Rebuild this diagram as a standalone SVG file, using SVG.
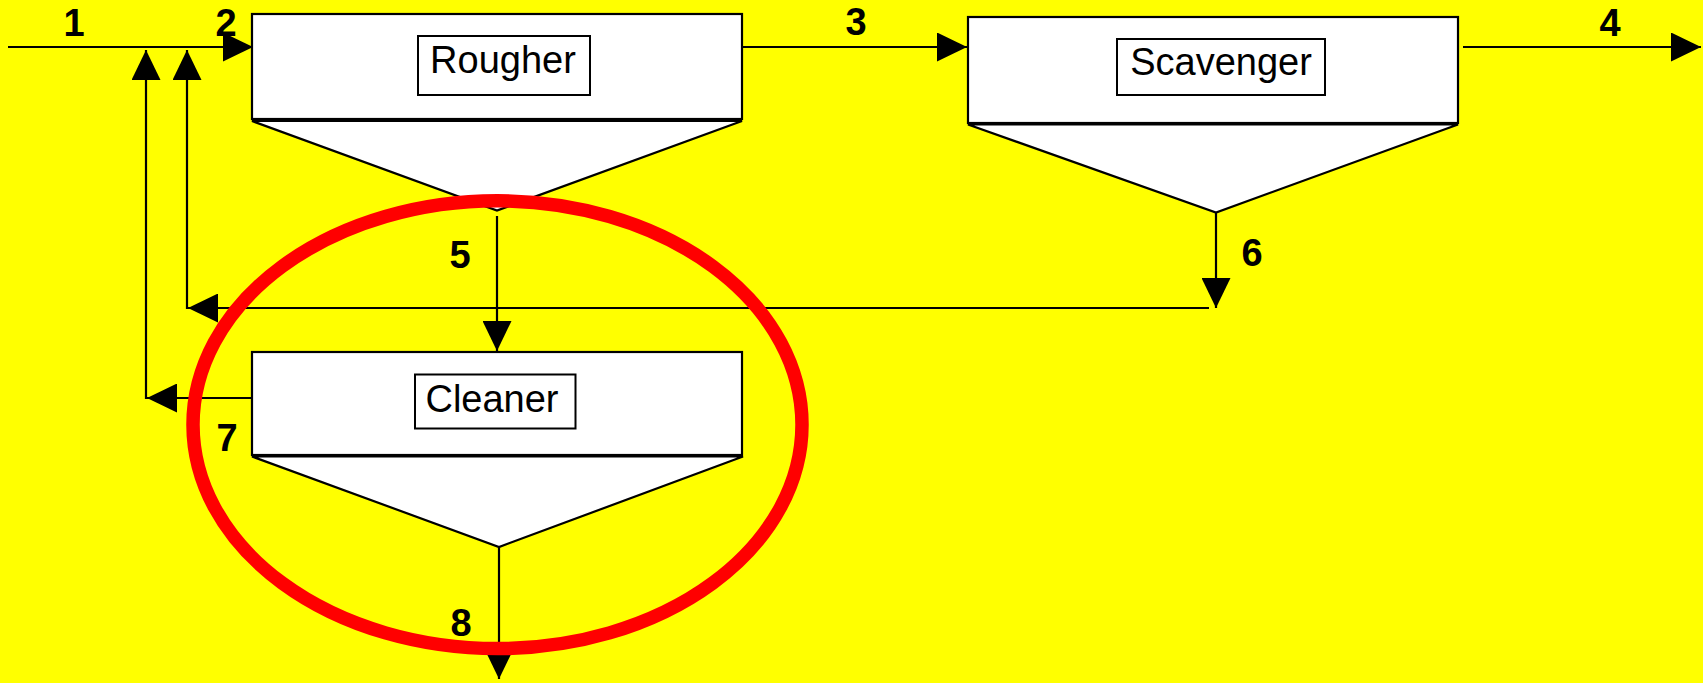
<svg xmlns="http://www.w3.org/2000/svg" width="1703" height="683" viewBox="0 0 1703 683">
<defs>
<marker id="arr" viewBox="0 0 30 30" refX="30" refY="15" markerWidth="30" markerHeight="29" markerUnits="userSpaceOnUse" orient="auto" preserveAspectRatio="none">
<path d="M0,0 L30,15 L0,30 Z" fill="#000"/>
</marker>
</defs>
<style>
.bg{fill:#FFFF00}
.cell{fill:#fff;stroke:#000;stroke-width:2.2}
.cone{fill:#fff;stroke:#000;stroke-width:2.2;stroke-linejoin:miter}
.tag{fill:#fff;stroke:#000;stroke-width:2}
.name{font-family:"Liberation Sans",Arial,sans-serif;font-size:38px;fill:#000;text-anchor:middle}
.num{font-family:"Liberation Sans",Arial,sans-serif;font-size:38px;font-weight:bold;fill:#000;text-anchor:middle}
.flow{fill:none;stroke:#000;stroke-width:2.2;marker-end:url(#arr)}
.hl{fill:none;stroke:#FF0000;stroke-width:13.5}
</style>
<rect class="bg" x="0" y="0" width="1703" height="683"/>

<g id="connectors">
<path class="flow" d="M8,47 H253"/>
<path class="flow" d="M742,47 H967"/>
<path class="flow" d="M1463,47 H1701"/>
<path class="flow" d="M497,216 V351"/>
<path class="flow" d="M1216,213 V308"/>
<path class="flow" d="M1209,308 H188"/>
<path class="flow" d="M187,309 V50"/>
<path class="flow" d="M252,398 H147"/>
<path class="flow" d="M146,399 V50"/>
<path class="flow" d="M499,547 V679"/>
<text class="num" x="74" y="36">1</text>
<text class="num" x="226" y="36">2</text>
<text class="num" x="856" y="35">3</text>
<text class="num" x="1610" y="36">4</text>
<text class="num" x="460" y="268">5</text>
<text class="num" x="1252" y="266">6</text>
<text class="num" x="227" y="451">7</text>
<text class="num" x="461" y="636">8</text>
</g>

<g id="node-rougher">
<polygon class="cone" points="252,121 742,121 497,210.5"/>
<rect class="cell" x="252" y="14" width="490" height="105"/>
<rect class="tag" x="418" y="36" width="172" height="59"/>
<text class="name" x="503" y="73">Rougher</text>
</g>

<g id="node-scavenger">
<polygon class="cone" points="968,124.5 1458,124.5 1216,212.5"/>
<rect class="cell" x="968" y="17" width="490" height="106"/>
<rect class="tag" x="1117" y="39" width="208" height="56"/>
<text class="name" x="1221" y="75">Scavenger</text>
</g>

<g id="node-cleaner">
<polygon class="cone" points="252,456.5 743,456.5 499,547"/>
<rect class="cell" x="252" y="352" width="490" height="103"/>
<rect class="tag" x="415" y="374.5" width="160.5" height="54"/>
<text class="name" x="492" y="412">Cleaner</text>
</g>

<g id="highlight">
<ellipse class="hl" cx="497.5" cy="424.7" rx="304.5" ry="223.9"/>
</g>
</svg>
